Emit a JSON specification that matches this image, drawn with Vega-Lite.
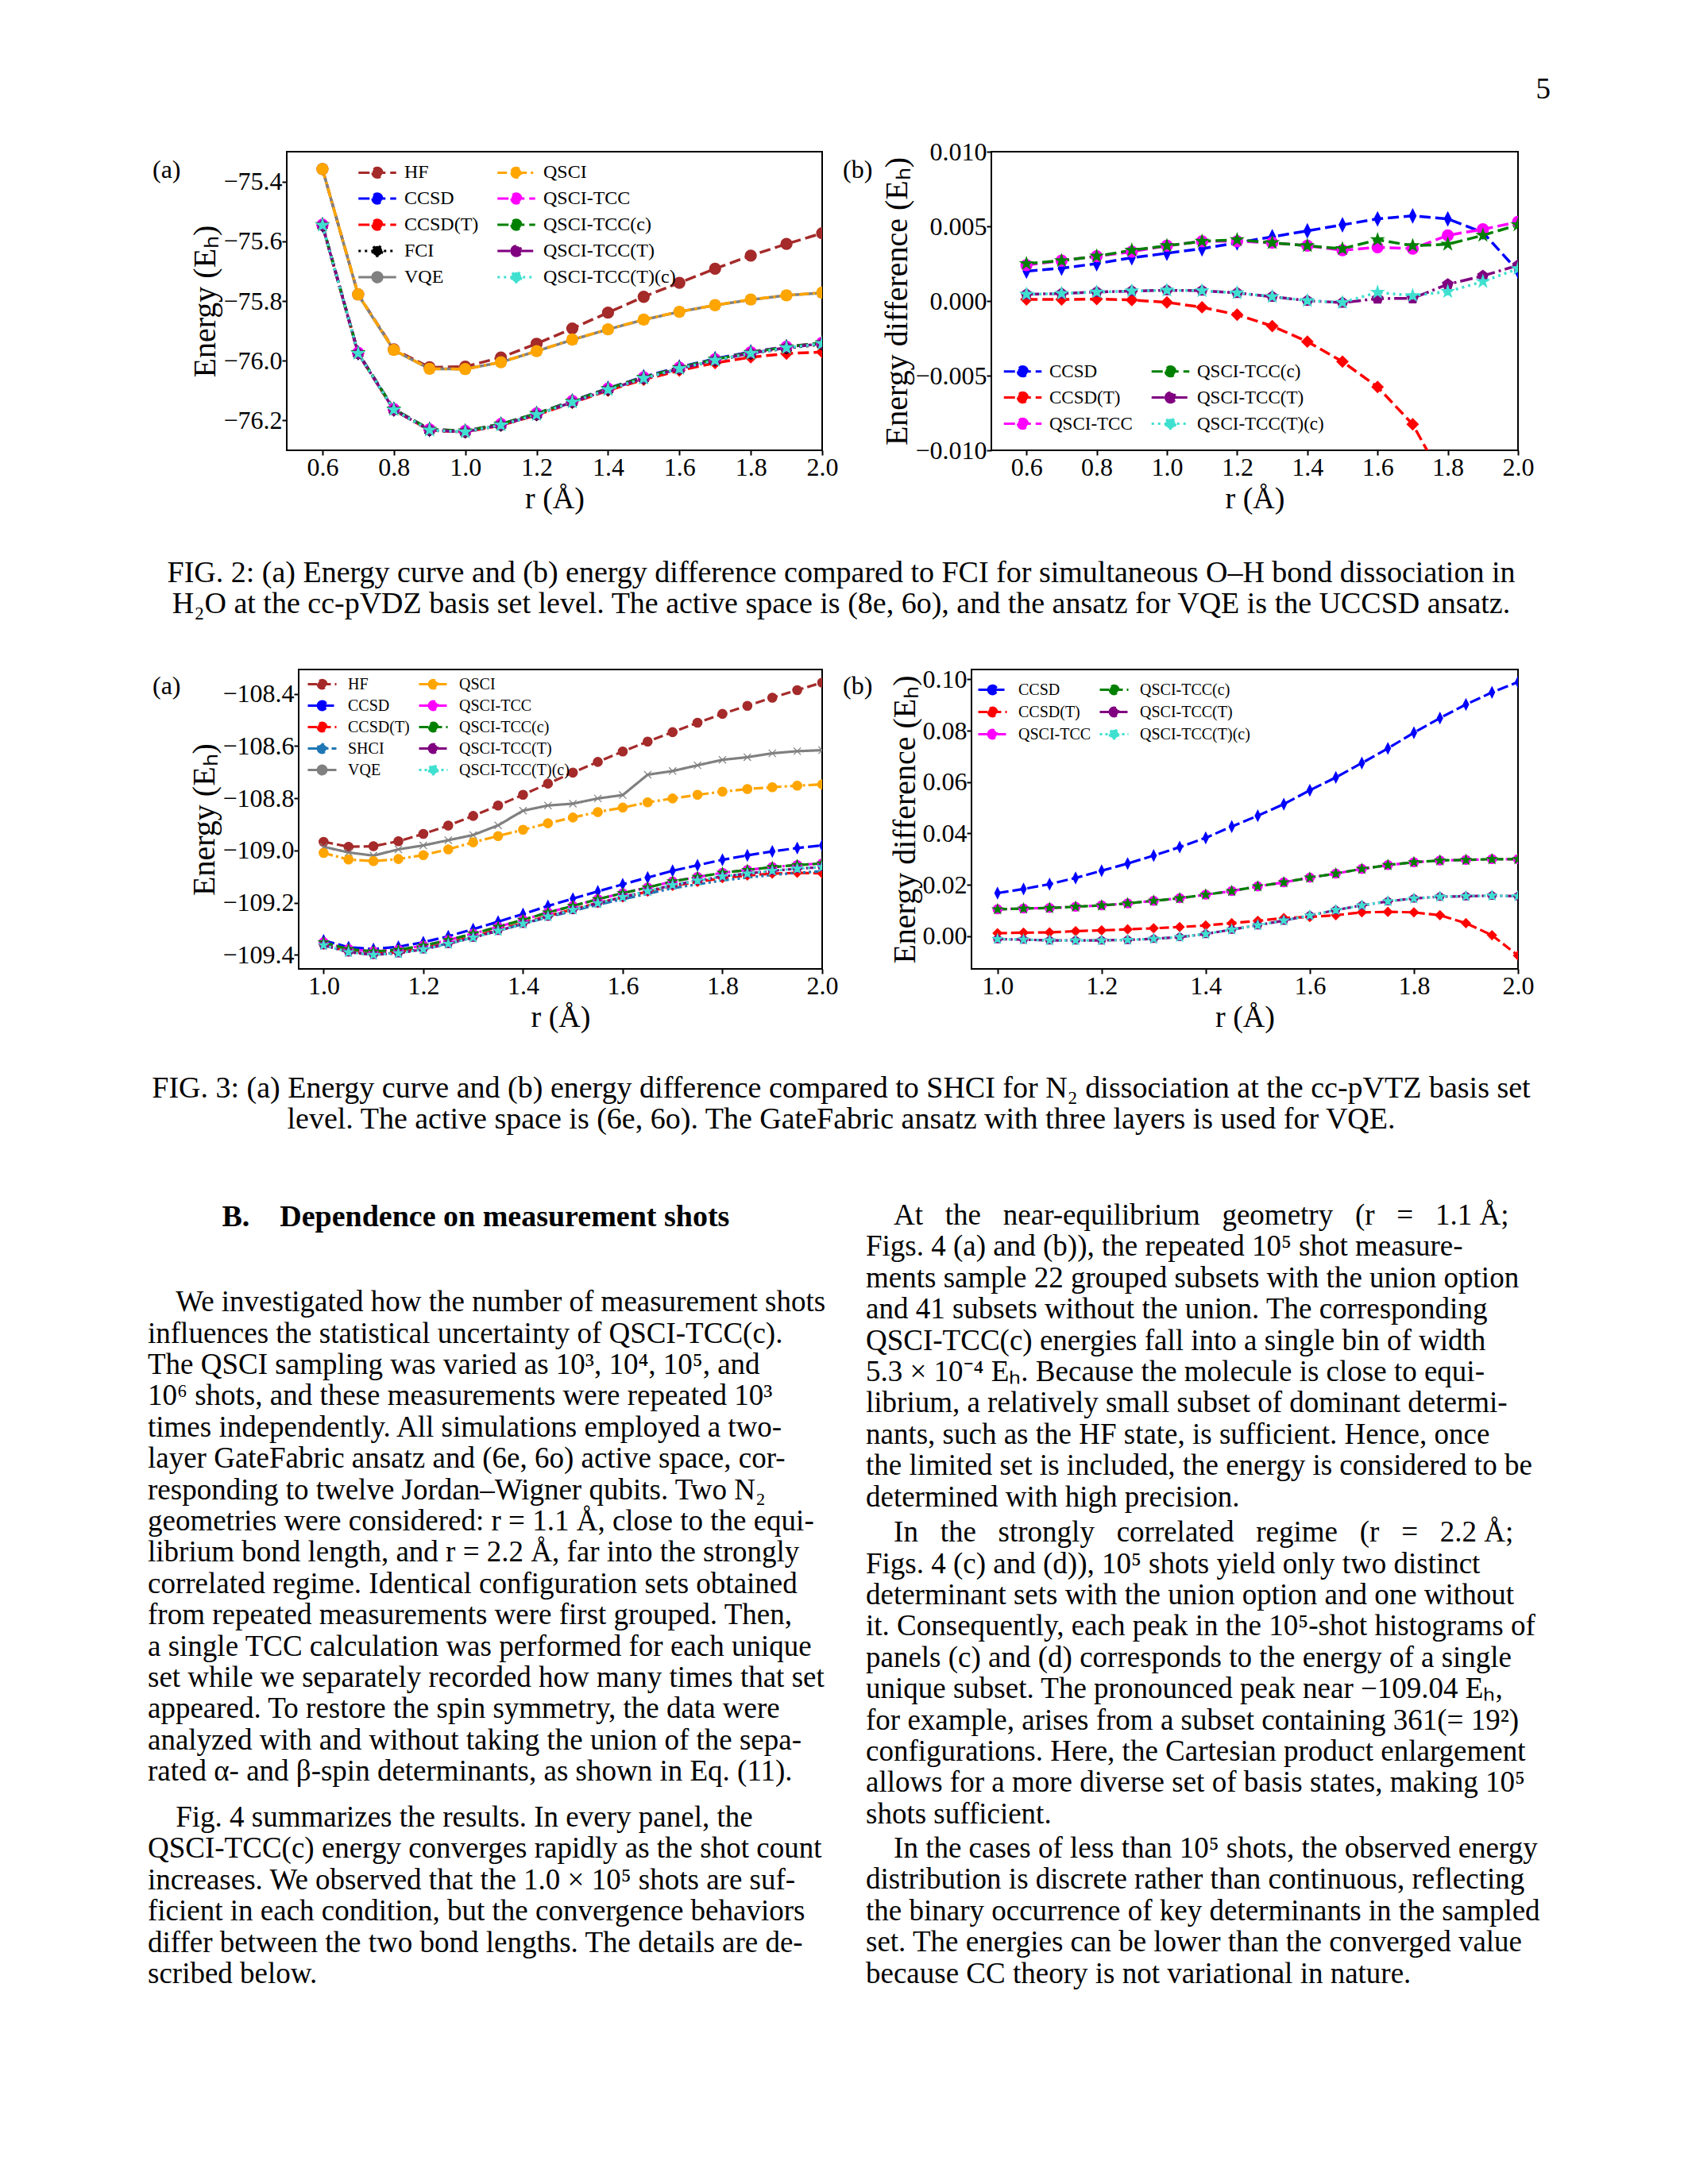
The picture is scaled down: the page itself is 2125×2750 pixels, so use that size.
{
"$schema": "https://vega.github.io/schema/vega-lite/v6.json",
"background": "white",
"padding": {"left": 186, "top": 52, "right": 5, "bottom": 5},
"datasets": {
"f2a": [
{"r":0.6,"HF":-75.358,"CCSD":-75.545,"CCSD(T)":-75.5469,"FCI":-75.547,"VQE":-75.358,"QSCI":-75.358,"QSCI-TCC":-75.5446,"QSCI-TCC(c)":-75.5445,"QSCI-TCC(T)":-75.5465,"QSCI-TCC(T)(c)":-75.5465},
{"r":0.7,"HF":-75.778,"CCSD":-75.9738,"CCSD(T)":-75.9759,"FCI":-75.976,"VQE":-75.779,"QSCI":-75.778,"QSCI-TCC":-75.9733,"QSCI-TCC(c)":-75.9733,"QSCI-TCC(T)":-75.9755,"QSCI-TCC(T)(c)":-75.9755},
{"r":0.8,"HF":-75.962,"CCSD":-76.1625,"CCSD(T)":-76.1649,"FCI":-76.165,"VQE":-75.965,"QSCI":-75.964,"QSCI-TCC":-76.162,"QSCI-TCC(c)":-76.162,"QSCI-TCC(T)":-76.1644,"QSCI-TCC(T)(c)":-76.1644},
{"r":0.9,"HF":-76.022,"CCSD":-76.2301,"CCSD(T)":-76.2329,"FCI":-76.233,"VQE":-76.027,"QSCI":-76.027,"QSCI-TCC":-76.2297,"QSCI-TCC(c)":-76.2296,"QSCI-TCC(T)":-76.2323,"QSCI-TCC(T)(c)":-76.2323},
{"r":1.0,"HF":-76.02,"CCSD":-76.2358,"CCSD(T)":-76.2391,"FCI":-76.239,"VQE":-76.028,"QSCI":-76.028,"QSCI-TCC":-76.2353,"QSCI-TCC(c)":-76.2353,"QSCI-TCC(T)":-76.2383,"QSCI-TCC(T)(c)":-76.2383},
{"r":1.1,"HF":-75.989,"CCSD":-76.2125,"CCSD(T)":-76.2164,"FCI":-76.216,"VQE":-76.005,"QSCI":-76.005,"QSCI-TCC":-76.212,"QSCI-TCC(c)":-76.212,"QSCI-TCC(T)":-76.2153,"QSCI-TCC(T)(c)":-76.2153},
{"r":1.2,"HF":-75.943,"CCSD":-76.1771,"CCSD(T)":-76.1819,"FCI":-76.181,"VQE":-75.968,"QSCI":-75.968,"QSCI-TCC":-76.177,"QSCI-TCC(c)":-76.1769,"QSCI-TCC(T)":-76.1805,"QSCI-TCC(T)(c)":-76.1805},
{"r":1.3,"HF":-75.892,"CCSD":-76.1347,"CCSD(T)":-76.1407,"FCI":-76.139,"VQE":-75.93,"QSCI":-75.929,"QSCI-TCC":-76.1351,"QSCI-TCC(c)":-76.1351,"QSCI-TCC(T)":-76.1387,"QSCI-TCC(T)(c)":-76.1387},
{"r":1.4,"HF":-75.839,"CCSD":-76.0923,"CCSD(T)":-76.0997,"FCI":-76.097,"VQE":-75.895,"QSCI":-75.895,"QSCI-TCC":-76.0933,"QSCI-TCC(c)":-76.0933,"QSCI-TCC(T)":-76.097,"QSCI-TCC(T)(c)":-76.097},
{"r":1.5,"HF":-75.786,"CCSD":-76.0539,"CCSD(T)":-76.0631,"FCI":-76.059,"VQE":-75.863,"QSCI":-75.862,"QSCI-TCC":-76.0556,"QSCI-TCC(c)":-76.0555,"QSCI-TCC(T)":-76.0591,"QSCI-TCC(T)(c)":-76.0591},
{"r":1.6,"HF":-75.739,"CCSD":-76.0215,"CCSD(T)":-76.0328,"FCI":-76.027,"VQE":-75.836,"QSCI":-75.836,"QSCI-TCC":-76.0234,"QSCI-TCC(c)":-76.0229,"QSCI-TCC(T)":-76.0268,"QSCI-TCC(T)(c)":-76.0264},
{"r":1.7,"HF":-75.692,"CCSD":-75.9933,"CCSD(T)":-76.0073,"FCI":-75.999,"VQE":-75.814,"QSCI":-75.814,"QSCI-TCC":-75.9955,"QSCI-TCC(c)":-75.9953,"QSCI-TCC(T)":-75.9988,"QSCI-TCC(T)(c)":-75.9986},
{"r":1.8,"HF":-75.648,"CCSD":-75.9705,"CCSD(T)":-75.9885,"FCI":-75.976,"VQE":-75.796,"QSCI":-75.795,"QSCI-TCC":-75.9716,"QSCI-TCC(c)":-75.9722,"QSCI-TCC(T)":-75.9749,"QSCI-TCC(T)(c)":-75.9754},
{"r":1.9,"HF":-75.609,"CCSD":-75.9534,"CCSD(T)":-75.976,"FCI":-75.958,"VQE":-75.781,"QSCI":-75.781,"QSCI-TCC":-75.9532,"QSCI-TCC(c)":-75.9536,"QSCI-TCC(T)":-75.9563,"QSCI-TCC(T)(c)":-75.9567},
{"r":2.0,"HF":-75.573,"CCSD":-75.943,"CCSD(T)":-75.971,"FCI":-75.945,"VQE":-75.773,"QSCI":-75.772,"QSCI-TCC":-75.9397,"QSCI-TCC(c)":-75.9399,"QSCI-TCC(T)":-75.9426,"QSCI-TCC(T)(c)":-75.9428}
],
"f2b": [
{"r":0.6,"CCSD":0.002,"CCSD(T)":0.0001,"QSCI-TCC":0.0024,"QSCI-TCC(c)":0.0025,"QSCI-TCC(T)":0.00045,"QSCI-TCC(T)(c)":0.00045},
{"r":0.7,"CCSD":0.0022,"CCSD(T)":0.0001,"QSCI-TCC":0.0027,"QSCI-TCC(c)":0.0027,"QSCI-TCC(T)":0.0005,"QSCI-TCC(T)(c)":0.0005},
{"r":0.8,"CCSD":0.0025,"CCSD(T)":0.00013,"QSCI-TCC":0.003,"QSCI-TCC(c)":0.003,"QSCI-TCC(T)":0.0006,"QSCI-TCC(T)(c)":0.0006},
{"r":0.9,"CCSD":0.0029,"CCSD(T)":0.00007,"QSCI-TCC":0.0033,"QSCI-TCC(c)":0.0034,"QSCI-TCC(T)":0.00067,"QSCI-TCC(T)(c)":0.00067},
{"r":1.0,"CCSD":0.0032,"CCSD(T)":-0.00009,"QSCI-TCC":0.0037,"QSCI-TCC(c)":0.0037,"QSCI-TCC(T)":0.00072,"QSCI-TCC(T)(c)":0.00072},
{"r":1.1,"CCSD":0.0035,"CCSD(T)":-0.00042,"QSCI-TCC":0.004,"QSCI-TCC(c)":0.004,"QSCI-TCC(T)":0.00069,"QSCI-TCC(T)(c)":0.00069},
{"r":1.2,"CCSD":0.0039,"CCSD(T)":-0.00092,"QSCI-TCC":0.004,"QSCI-TCC(c)":0.0041,"QSCI-TCC(T)":0.00054,"QSCI-TCC(T)(c)":0.00054},
{"r":1.3,"CCSD":0.0043,"CCSD(T)":-0.00168,"QSCI-TCC":0.0039,"QSCI-TCC(c)":0.0039,"QSCI-TCC(T)":0.00029,"QSCI-TCC(T)(c)":0.00029},
{"r":1.4,"CCSD":0.0047,"CCSD(T)":-0.00272,"QSCI-TCC":0.0037,"QSCI-TCC(c)":0.0037,"QSCI-TCC(T)":0.00002,"QSCI-TCC(T)(c)":0.00002},
{"r":1.5,"CCSD":0.0051,"CCSD(T)":-0.00406,"QSCI-TCC":0.0034,"QSCI-TCC(c)":0.0035,"QSCI-TCC(T)":-0.00011,"QSCI-TCC(T)(c)":-0.0001},
{"r":1.6,"CCSD":0.0055,"CCSD(T)":-0.00576,"QSCI-TCC":0.0036,"QSCI-TCC(c)":0.0041,"QSCI-TCC(T)":0.00016,"QSCI-TCC(T)(c)":0.00058},
{"r":1.7,"CCSD":0.0057,"CCSD(T)":-0.00826,"QSCI-TCC":0.0035,"QSCI-TCC(c)":0.0037,"QSCI-TCC(T)":0.00018,"QSCI-TCC(T)(c)":0.00036},
{"r":1.8,"CCSD":0.0055,"CCSD(T)":-0.0125,"QSCI-TCC":0.0044,"QSCI-TCC(c)":0.0038,"QSCI-TCC(T)":0.00112,"QSCI-TCC(T)(c)":0.00063},
{"r":1.9,"CCSD":0.0046,"CCSD(T)":-0.018,"QSCI-TCC":0.0048,"QSCI-TCC(c)":0.0044,"QSCI-TCC(T)":0.00168,"QSCI-TCC(T)(c)":0.0013},
{"r":2.0,"CCSD":0.002,"CCSD(T)":-0.026,"QSCI-TCC":0.0053,"QSCI-TCC(c)":0.0051,"QSCI-TCC(T)":0.00239,"QSCI-TCC(T)(c)":0.00216}
],
"f3a": [
{"r":1.0,"HF":-108.967,"CCSD":-109.345,"CCSD(T)":-109.361,"SHCI":-109.362,"VQE":-108.986,"QSCI":-109.01,"QSCI-TCC":-109.352,"QSCI-TCC(c)":-109.352,"QSCI-TCC(T)":-109.363,"QSCI-TCC(T)(c)":-109.363},
{"r":1.05,"HF":-108.986,"CCSD":-109.371,"CCSD(T)":-109.388,"SHCI":-109.389,"VQE":-109.008,"QSCI":-109.035,"QSCI-TCC":-109.378,"QSCI-TCC(c)":-109.378,"QSCI-TCC(T)":-109.39,"QSCI-TCC(T)(c)":-109.39},
{"r":1.1,"HF":-108.984,"CCSD":-109.378,"CCSD(T)":-109.396,"SHCI":-109.398,"VQE":-109.02,"QSCI":-109.041,"QSCI-TCC":-109.387,"QSCI-TCC(c)":-109.387,"QSCI-TCC(T)":-109.4,"QSCI-TCC(T)(c)":-109.4},
{"r":1.15,"HF":-108.965,"CCSD":-109.369,"CCSD(T)":-109.39,"SHCI":-109.392,"VQE":-108.996,"QSCI":-109.033,"QSCI-TCC":-109.381,"QSCI-TCC(c)":-109.381,"QSCI-TCC(T)":-109.394,"QSCI-TCC(T)(c)":-109.394},
{"r":1.2,"HF":-108.937,"CCSD":-109.352,"CCSD(T)":-109.375,"SHCI":-109.377,"VQE":-108.981,"QSCI":-109.018,"QSCI-TCC":-109.365,"QSCI-TCC(c)":-109.365,"QSCI-TCC(T)":-109.379,"QSCI-TCC(T)(c)":-109.379},
{"r":1.25,"HF":-108.905,"CCSD":-109.329,"CCSD(T)":-109.354,"SHCI":-109.357,"VQE":-108.961,"QSCI":-108.996,"QSCI-TCC":-109.344,"QSCI-TCC(c)":-109.344,"QSCI-TCC(T)":-109.358,"QSCI-TCC(T)(c)":-109.358},
{"r":1.3,"HF":-108.868,"CCSD":-109.302,"CCSD(T)":-109.33,"SHCI":-109.333,"VQE":-108.941,"QSCI":-108.969,"QSCI-TCC":-109.319,"QSCI-TCC(c)":-109.319,"QSCI-TCC(T)":-109.334,"QSCI-TCC(T)(c)":-109.334},
{"r":1.35,"HF":-108.828,"CCSD":-109.273,"CCSD(T)":-109.304,"SHCI":-109.308,"VQE":-108.904,"QSCI":-108.945,"QSCI-TCC":-109.293,"QSCI-TCC(c)":-109.293,"QSCI-TCC(T)":-109.308,"QSCI-TCC(T)(c)":-109.308},
{"r":1.4,"HF":-108.787,"CCSD":-109.244,"CCSD(T)":-109.278,"SHCI":-109.282,"VQE":-108.848,"QSCI":-108.921,"QSCI-TCC":-109.266,"QSCI-TCC(c)":-109.266,"QSCI-TCC(T)":-109.281,"QSCI-TCC(T)(c)":-109.281},
{"r":1.45,"HF":-108.744,"CCSD":-109.213,"CCSD(T)":-109.251,"SHCI":-109.256,"VQE":-108.828,"QSCI":-108.896,"QSCI-TCC":-109.238,"QSCI-TCC(c)":-109.238,"QSCI-TCC(T)":-109.253,"QSCI-TCC(T)(c)":-109.253},
{"r":1.5,"HF":-108.702,"CCSD":-109.185,"CCSD(T)":-109.226,"SHCI":-109.232,"VQE":-108.821,"QSCI":-108.874,"QSCI-TCC":-109.213,"QSCI-TCC(c)":-109.213,"QSCI-TCC(T)":-109.228,"QSCI-TCC(T)(c)":-109.228},
{"r":1.55,"HF":-108.661,"CCSD":-109.157,"CCSD(T)":-109.201,"SHCI":-109.208,"VQE":-108.801,"QSCI":-108.853,"QSCI-TCC":-109.187,"QSCI-TCC(c)":-109.187,"QSCI-TCC(T)":-109.202,"QSCI-TCC(T)(c)":-109.202},
{"r":1.6,"HF":-108.621,"CCSD":-109.13,"CCSD(T)":-109.18,"SHCI":-109.187,"VQE":-108.788,"QSCI":-108.836,"QSCI-TCC":-109.164,"QSCI-TCC(c)":-109.164,"QSCI-TCC(T)":-109.179,"QSCI-TCC(T)(c)":-109.179},
{"r":1.65,"HF":-108.583,"CCSD":-109.104,"CCSD(T)":-109.158,"SHCI":-109.166,"VQE":-108.71,"QSCI":-108.816,"QSCI-TCC":-109.142,"QSCI-TCC(c)":-109.142,"QSCI-TCC(T)":-109.156,"QSCI-TCC(T)(c)":-109.156},
{"r":1.7,"HF":-108.547,"CCSD":-109.078,"CCSD(T)":-109.136,"SHCI":-109.145,"VQE":-108.696,"QSCI":-108.801,"QSCI-TCC":-109.119,"QSCI-TCC(c)":-109.119,"QSCI-TCC(T)":-109.133,"QSCI-TCC(T)(c)":-109.133},
{"r":1.75,"HF":-108.511,"CCSD":-109.057,"CCSD(T)":-109.121,"SHCI":-109.13,"VQE":-108.674,"QSCI":-108.787,"QSCI-TCC":-109.102,"QSCI-TCC(c)":-109.102,"QSCI-TCC(T)":-109.116,"QSCI-TCC(T)(c)":-109.116},
{"r":1.8,"HF":-108.477,"CCSD":-109.036,"CCSD(T)":-109.106,"SHCI":-109.115,"VQE":-108.653,"QSCI":-108.775,"QSCI-TCC":-109.086,"QSCI-TCC(c)":-109.086,"QSCI-TCC(T)":-109.1,"QSCI-TCC(T)(c)":-109.1},
{"r":1.85,"HF":-108.446,"CCSD":-109.019,"CCSD(T)":-109.096,"SHCI":-109.104,"VQE":-108.643,"QSCI":-108.765,"QSCI-TCC":-109.075,"QSCI-TCC(c)":-109.075,"QSCI-TCC(T)":-109.089,"QSCI-TCC(T)(c)":-109.089},
{"r":1.9,"HF":-108.415,"CCSD":-109.004,"CCSD(T)":-109.089,"SHCI":-109.094,"VQE":-108.628,"QSCI":-108.758,"QSCI-TCC":-109.064,"QSCI-TCC(c)":-109.064,"QSCI-TCC(T)":-109.078,"QSCI-TCC(T)(c)":-109.078},
{"r":1.95,"HF":-108.386,"CCSD":-108.991,"CCSD(T)":-109.086,"SHCI":-109.086,"VQE":-108.62,"QSCI":-108.752,"QSCI-TCC":-109.056,"QSCI-TCC(c)":-109.056,"QSCI-TCC(T)":-109.07,"QSCI-TCC(T)(c)":-109.07},
{"r":2.0,"HF":-108.357,"CCSD":-108.981,"CCSD(T)":-109.088,"SHCI":-109.08,"VQE":-108.616,"QSCI":-108.747,"QSCI-TCC":-109.05,"QSCI-TCC(c)":-109.05,"QSCI-TCC(T)":-109.064,"QSCI-TCC(T)(c)":-109.064}
],
"f3b": [
{"r":1.0,"CCSD":0.0168,"CCSD(T)":0.0012,"QSCI-TCC":0.0105,"QSCI-TCC(c)":0.0105,"QSCI-TCC(T)":-0.0011,"QSCI-TCC(T)(c)":-0.0011},
{"r":1.05,"CCSD":0.0184,"CCSD(T)":0.0014,"QSCI-TCC":0.0108,"QSCI-TCC(c)":0.0108,"QSCI-TCC(T)":-0.0013,"QSCI-TCC(T)(c)":-0.0013},
{"r":1.1,"CCSD":0.0203,"CCSD(T)":0.0015,"QSCI-TCC":0.011,"QSCI-TCC(c)":0.011,"QSCI-TCC(T)":-0.0016,"QSCI-TCC(T)(c)":-0.0016},
{"r":1.15,"CCSD":0.0227,"CCSD(T)":0.002,"QSCI-TCC":0.0115,"QSCI-TCC(c)":0.0115,"QSCI-TCC(T)":-0.0016,"QSCI-TCC(T)(c)":-0.0016},
{"r":1.2,"CCSD":0.0255,"CCSD(T)":0.0023,"QSCI-TCC":0.012,"QSCI-TCC(c)":0.012,"QSCI-TCC(T)":-0.0016,"QSCI-TCC(T)(c)":-0.0016},
{"r":1.25,"CCSD":0.0283,"CCSD(T)":0.0027,"QSCI-TCC":0.0128,"QSCI-TCC(c)":0.0128,"QSCI-TCC(T)":-0.0014,"QSCI-TCC(T)(c)":-0.0014},
{"r":1.3,"CCSD":0.0314,"CCSD(T)":0.0031,"QSCI-TCC":0.0138,"QSCI-TCC(c)":0.0138,"QSCI-TCC(T)":-0.001,"QSCI-TCC(T)(c)":-0.001},
{"r":1.35,"CCSD":0.0347,"CCSD(T)":0.0036,"QSCI-TCC":0.0148,"QSCI-TCC(c)":0.0148,"QSCI-TCC(T)":-0.0003,"QSCI-TCC(T)(c)":-0.0003},
{"r":1.4,"CCSD":0.0383,"CCSD(T)":0.0042,"QSCI-TCC":0.0162,"QSCI-TCC(c)":0.0162,"QSCI-TCC(T)":0.0009,"QSCI-TCC(T)(c)":0.0009},
{"r":1.45,"CCSD":0.0427,"CCSD(T)":0.0051,"QSCI-TCC":0.0176,"QSCI-TCC(c)":0.0176,"QSCI-TCC(T)":0.0026,"QSCI-TCC(T)(c)":0.0026},
{"r":1.5,"CCSD":0.0469,"CCSD(T)":0.006,"QSCI-TCC":0.0194,"QSCI-TCC(c)":0.0194,"QSCI-TCC(T)":0.0043,"QSCI-TCC(T)(c)":0.0043},
{"r":1.55,"CCSD":0.0514,"CCSD(T)":0.0071,"QSCI-TCC":0.021,"QSCI-TCC(c)":0.021,"QSCI-TCC(T)":0.0061,"QSCI-TCC(T)(c)":0.0061},
{"r":1.6,"CCSD":0.0568,"CCSD(T)":0.0075,"QSCI-TCC":0.0228,"QSCI-TCC(c)":0.0228,"QSCI-TCC(T)":0.0081,"QSCI-TCC(T)(c)":0.0081},
{"r":1.65,"CCSD":0.0618,"CCSD(T)":0.0082,"QSCI-TCC":0.0244,"QSCI-TCC(c)":0.0244,"QSCI-TCC(T)":0.0102,"QSCI-TCC(T)(c)":0.0102},
{"r":1.7,"CCSD":0.0674,"CCSD(T)":0.0093,"QSCI-TCC":0.0262,"QSCI-TCC(c)":0.0262,"QSCI-TCC(T)":0.012,"QSCI-TCC(T)(c)":0.012},
{"r":1.75,"CCSD":0.0731,"CCSD(T)":0.0095,"QSCI-TCC":0.0277,"QSCI-TCC(c)":0.0277,"QSCI-TCC(T)":0.0136,"QSCI-TCC(T)(c)":0.0136},
{"r":1.8,"CCSD":0.0792,"CCSD(T)":0.0093,"QSCI-TCC":0.0288,"QSCI-TCC(c)":0.0288,"QSCI-TCC(T)":0.0147,"QSCI-TCC(T)(c)":0.0147},
{"r":1.85,"CCSD":0.0849,"CCSD(T)":0.0082,"QSCI-TCC":0.0295,"QSCI-TCC(c)":0.0295,"QSCI-TCC(T)":0.0154,"QSCI-TCC(T)(c)":0.0154},
{"r":1.9,"CCSD":0.0902,"CCSD(T)":0.0051,"QSCI-TCC":0.0297,"QSCI-TCC(c)":0.0297,"QSCI-TCC(T)":0.0156,"QSCI-TCC(T)(c)":0.0156},
{"r":1.95,"CCSD":0.0949,"CCSD(T)":0.0004,"QSCI-TCC":0.03,"QSCI-TCC(c)":0.03,"QSCI-TCC(T)":0.0158,"QSCI-TCC(T)(c)":0.0158},
{"r":2.0,"CCSD":0.0989,"CCSD(T)":-0.0075,"QSCI-TCC":0.03,"QSCI-TCC(c)":0.03,"QSCI-TCC(T)":0.0156,"QSCI-TCC(T)(c)":0.0156}
]
},
"vconcat": [
{
"width": 1766, "height": 122, "view": {"stroke": null},
"data": {"values": [{"side": 1, "text": "5"}]},
"mark": {"type": "text", "align": "right", "baseline": "middle", "font": "Liberation Serif", "fontSize": 37, "color": "black"},
"encoding": {"x": {"field": "side", "type": "quantitative", "scale": {"domain": [0, 1], "nice": false}, "axis": null}, "text": {"field": "text"}}
},
{
"hconcat": [
{
"width": 1, "height": 1, "view": {"stroke": null},
"data": {"values": [{"t": ""}]},
"mark": {"type": "text"},
"encoding": {"text": {"field": "t"}}
},
{
"width": 674, "height": 376,
"title": {"text": "(a)", "anchor": "start", "frame": "group", "orient": "top", "baseline": "middle", "offset": -55, "dx": -169},
"data": {"name": "f2a"},
"transform": [{"fold": ["HF","CCSD","CCSD(T)","FCI","VQE","QSCI","QSCI-TCC","QSCI-TCC(c)","QSCI-TCC(T)","QSCI-TCC(T)(c)"], "as": ["method", "e"]}],
"encoding": {
"x": {"field": "r", "type": "quantitative", "scale": {"domain": [0.5, 2.0], "nice": false, "zero": false}, "axis": {"title": "r (Å)", "values": [0.6,0.8,1.0,1.2,1.4,1.6,1.8,2.0], "format": ".1f"}},
"y": {"field": "e", "type": "quantitative", "scale": {"domain": [-76.3, -75.3], "nice": false, "zero": false}, "axis": {"title": "Energy (Eₕ)", "values": [-76.2,-76.0,-75.8,-75.6,-75.4], "format": ".1f"}}
},
"layer": [
{"mark": {"type": "line", "strokeWidth": 3.5, "clip": true},
"encoding": {
"color": {"field": "method", "type": "nominal", "scale": {"domain": ["HF","CCSD","CCSD(T)","FCI","VQE","QSCI","QSCI-TCC","QSCI-TCC(c)","QSCI-TCC(T)","QSCI-TCC(T)(c)"], "range": ["#a52a2a","#0000ff","#ff0000","#000000","#808080","#ffa500","#ff00ff","#008000","#800080","#40e0d0"]},
"legend": {"orient": "none", "legendX": 102, "legendY": 14, "columns": 2, "columnPadding": 17, "rowPadding": 7, "symbolSize": 361, "symbolStrokeWidth": 3, "symbolType": "M-2.5,0H2.5M-0.65,0A0.65,0.65 0 1,0 0.65,0A0.65,0.65 0 1,0 -0.65,0Z", "labelOffset": 22, "labelFontSize": 24, "labelLimit": 0, "title": null, "padding": 0}},
"strokeDash": {"field": "method", "type": "nominal", "scale": {"domain": ["HF","CCSD","CCSD(T)","FCI","VQE","QSCI","QSCI-TCC","QSCI-TCC(c)","QSCI-TCC(T)","QSCI-TCC(T)(c)"], "range": [[14,6],[14,6],[14,6],[3,5],[1,0],[12,5,3,5],[14,6],[14,6],[16,5,3,5],[3,5]]},
"legend": {"orient": "none", "legendX": 102, "legendY": 14, "columns": 2, "columnPadding": 17, "rowPadding": 7, "symbolSize": 361, "symbolStrokeWidth": 3, "symbolType": "M-2.5,0H2.5M-0.65,0A0.65,0.65 0 1,0 0.65,0A0.65,0.65 0 1,0 -0.65,0Z", "labelOffset": 22, "labelFontSize": 24, "labelLimit": 0, "title": null, "padding": 0}}
}},
{"mark": {"type": "point", "filled": true, "size": 190, "opacity": 1, "strokeWidth": 1.5, "clip": true},
"encoding": {
"fill": {"field": "method", "type": "nominal", "scale": {"domain": ["HF","CCSD","CCSD(T)","FCI","VQE","QSCI","QSCI-TCC","QSCI-TCC(c)","QSCI-TCC(T)","QSCI-TCC(T)(c)"], "range": ["#a52a2a","#0000ff","#ff0000","#000000","#808080","#ffa500","#ff00ff","#008000","#800080","#40e0d0"]},
"legend": {"orient": "none", "legendX": 102, "legendY": 14, "columns": 2, "columnPadding": 17, "rowPadding": 7, "symbolSize": 361, "symbolStrokeWidth": 3, "symbolType": "M-2.5,0H2.5M-0.65,0A0.65,0.65 0 1,0 0.65,0A0.65,0.65 0 1,0 -0.65,0Z", "labelOffset": 22, "labelFontSize": 24, "labelLimit": 0, "title": null, "padding": 0}},
"stroke": {"field": "method", "type": "nominal", "scale": {"domain": ["QSCI-TCC(T)(c)","QSCI-TCC(T)","QSCI-TCC(c)","QSCI-TCC","QSCI","VQE","FCI","CCSD(T)","CCSD","HF"], "range": ["#40e0d0","#800080","#008000","#ff00ff","#ffa500","#808080","#000000","#ff0000","#0000ff","#a52a2a"]}, "legend": null},
"shape": {"field": "method", "type": "nominal", "scale": {"domain": ["QSCI-TCC(T)(c)","QSCI-TCC(T)","QSCI-TCC(c)","QSCI-TCC","QSCI","VQE","FCI","CCSD(T)","CCSD","HF"], "range": ["M0,-1.1L0.25,-0.34L1.05,-0.34L0.4,0.13L0.65,0.89L0,0.42L-0.65,0.89L-0.4,0.13L-1.05,-0.34L-0.25,-0.34Z","M0,-1L0.95,-0.31L0.59,0.81L-0.59,0.81L-0.95,-0.31Z","M0,-1.1L0.25,-0.34L1.05,-0.34L0.4,0.13L0.65,0.89L0,0.42L-0.65,0.89L-0.4,0.13L-1.05,-0.34L-0.25,-0.34Z","M-1,0A1,1 0 1,0 1,0A1,1 0 1,0 -1,0Z","M-1,0A1,1 0 1,0 1,0A1,1 0 1,0 -1,0Z","M-0.8,-0.8L0.8,0.8M-0.8,0.8L0.8,-0.8","M0,-1L0.87,-0.5L0.87,0.5L0,1L-0.87,0.5L-0.87,-0.5Z","M0,-1L1,0L0,1L-1,0Z","M0,-1.2L0.6,0L0,1.2L-0.6,0Z","M-1,0A1,1 0 1,0 1,0A1,1 0 1,0 -1,0Z"]}, "legend": null}
}}
]
},
{
"width": 663, "height": 376,
"title": {"text": "(b)", "anchor": "start", "frame": "group", "orient": "top", "baseline": "middle", "offset": -71, "dx": -187},
"data": {"name": "f2b"},
"transform": [{"fold": ["CCSD","CCSD(T)","QSCI-TCC","QSCI-TCC(c)","QSCI-TCC(T)","QSCI-TCC(T)(c)"], "as": ["method", "e"]}],
"encoding": {
"x": {"field": "r", "type": "quantitative", "scale": {"domain": [0.5, 2.0], "nice": false, "zero": false}, "axis": {"title": "r (Å)", "values": [0.6,0.8,1.0,1.2,1.4,1.6,1.8,2.0], "format": ".1f"}},
"y": {"field": "e", "type": "quantitative", "scale": {"domain": [-0.01, 0.01], "nice": false, "zero": false}, "axis": {"title": "Energy difference (Eₕ)", "values": [-0.01,-0.005,0,0.005,0.01], "format": ".3f"}}
},
"layer": [
{"mark": {"type": "line", "strokeWidth": 3.5, "clip": true},
"encoding": {
"color": {"field": "method", "type": "nominal", "scale": {"domain": ["CCSD","CCSD(T)","QSCI-TCC","QSCI-TCC(c)","QSCI-TCC(T)","QSCI-TCC(T)(c)"], "range": ["#0000ff","#ff0000","#ff00ff","#008000","#800080","#40e0d0"]},
"legend": {"orient": "none", "legendX": 28, "legendY": 265, "columns": 2, "columnPadding": 17, "rowPadding": 8, "symbolSize": 361, "symbolStrokeWidth": 3, "symbolType": "M-2.5,0H2.5M-0.65,0A0.65,0.65 0 1,0 0.65,0A0.65,0.65 0 1,0 -0.65,0Z", "labelOffset": 22, "labelFontSize": 23, "labelLimit": 0, "title": null, "padding": 0}},
"strokeDash": {"field": "method", "type": "nominal", "scale": {"domain": ["CCSD","CCSD(T)","QSCI-TCC","QSCI-TCC(c)","QSCI-TCC(T)","QSCI-TCC(T)(c)"], "range": [[14,6],[14,6],[14,6],[14,6],[16,5,3,5],[3,5]]},
"legend": {"orient": "none", "legendX": 28, "legendY": 265, "columns": 2, "columnPadding": 17, "rowPadding": 8, "symbolSize": 361, "symbolStrokeWidth": 3, "symbolType": "M-2.5,0H2.5M-0.65,0A0.65,0.65 0 1,0 0.65,0A0.65,0.65 0 1,0 -0.65,0Z", "labelOffset": 22, "labelFontSize": 23, "labelLimit": 0, "title": null, "padding": 0}}
}},
{"mark": {"type": "point", "filled": true, "size": 190, "opacity": 1, "strokeWidth": 1.5, "clip": true},
"encoding": {
"fill": {"field": "method", "type": "nominal", "scale": {"domain": ["CCSD","CCSD(T)","QSCI-TCC","QSCI-TCC(c)","QSCI-TCC(T)","QSCI-TCC(T)(c)"], "range": ["#0000ff","#ff0000","#ff00ff","#008000","#800080","#40e0d0"]},
"legend": {"orient": "none", "legendX": 28, "legendY": 265, "columns": 2, "columnPadding": 17, "rowPadding": 8, "symbolSize": 361, "symbolStrokeWidth": 3, "symbolType": "M-2.5,0H2.5M-0.65,0A0.65,0.65 0 1,0 0.65,0A0.65,0.65 0 1,0 -0.65,0Z", "labelOffset": 22, "labelFontSize": 23, "labelLimit": 0, "title": null, "padding": 0}},
"stroke": {"field": "method", "type": "nominal", "scale": {"domain": ["QSCI-TCC(T)(c)","QSCI-TCC(T)","QSCI-TCC(c)","QSCI-TCC","CCSD(T)","CCSD"], "range": ["#40e0d0","#800080","#008000","#ff00ff","#ff0000","#0000ff"]}, "legend": null},
"shape": {"field": "method", "type": "nominal", "scale": {"domain": ["QSCI-TCC(T)(c)","QSCI-TCC(T)","QSCI-TCC(c)","QSCI-TCC","CCSD(T)","CCSD"], "range": ["M0,-1.1L0.25,-0.34L1.05,-0.34L0.4,0.13L0.65,0.89L0,0.42L-0.65,0.89L-0.4,0.13L-1.05,-0.34L-0.25,-0.34Z","M0,-1L0.95,-0.31L0.59,0.81L-0.59,0.81L-0.95,-0.31Z","M0,-1.1L0.25,-0.34L1.05,-0.34L0.4,0.13L0.65,0.89L0,0.42L-0.65,0.89L-0.4,0.13L-1.05,-0.34L-0.25,-0.34Z","M-1,0A1,1 0 1,0 1,0A1,1 0 1,0 -1,0Z","M0,-1L1,0L0,1L-1,0Z","M0,-1.2L0.6,0L0,1.2L-0.6,0Z"]}, "legend": null}
}}
]
}
],
"spacing": 4,
"resolve": {"scale": {"color": "independent", "fill": "independent", "stroke": "independent", "strokeDash": "independent", "shape": "independent"}, "legend": {"color": "independent", "fill": "independent", "stroke": "independent", "strokeDash": "independent", "shape": "independent"}}
},
{
"width": 1746, "height": 189, "view": {"stroke": null},
"data": {"values": [
{"line": 0, "text": "FIG. 2: (a) Energy curve and (b) energy difference compared to FCI for simultaneous O–H bond dissociation in"},
{"line": 1, "text": "H₂O at the cc-pVDZ basis set level. The active space is (8e, 6o), and the ansatz for VQE is the UCCSD ansatz."}
]},
"mark": {"type": "text", "align": "center", "baseline": "middle", "font": "Liberation Serif", "fontSize": 38, "color": "black"},
"encoding": {"y": {"field": "line", "type": "quantitative", "scale": {"domain": [-1.878, 2.919], "reverse": true, "nice": false, "zero": false}, "axis": null}, "text": {"field": "text"}}
},
{
"hconcat": [
{
"width": 1, "height": 1, "view": {"stroke": null},
"data": {"values": [{"t": ""}]},
"mark": {"type": "text"},
"encoding": {"text": {"field": "t"}}
},
{
"width": 659, "height": 377,
"title": {"text": "(a)", "anchor": "start", "frame": "group", "orient": "top", "baseline": "middle", "offset": -53, "dx": -184},
"data": {"name": "f3a"},
"transform": [{"fold": ["HF","CCSD","CCSD(T)","SHCI","VQE","QSCI","QSCI-TCC","QSCI-TCC(c)","QSCI-TCC(T)","QSCI-TCC(T)(c)"], "as": ["method", "e"]}],
"encoding": {
"x": {"field": "r", "type": "quantitative", "scale": {"domain": [0.95, 2.0], "nice": false, "zero": false}, "axis": {"title": "r (Å)", "values": [1.0,1.2,1.4,1.6,1.8,2.0], "format": ".1f"}},
"y": {"field": "e", "type": "quantitative", "scale": {"domain": [-109.454, -108.307], "nice": false, "zero": false}, "axis": {"title": "Energy (Eₕ)", "values": [-109.4,-109.2,-109.0,-108.8,-108.6,-108.4], "format": ".1f"}}
},
"layer": [
{"mark": {"type": "line", "strokeWidth": 3.2, "clip": true},
"encoding": {
"color": {"field": "method", "type": "nominal", "scale": {"domain": ["HF","CCSD","CCSD(T)","SHCI","VQE","QSCI","QSCI-TCC","QSCI-TCC(c)","QSCI-TCC(T)","QSCI-TCC(T)(c)"], "range": ["#a52a2a","#0000ff","#ff0000","#1f77b4","#808080","#ffa500","#ff00ff","#008000","#800080","#40e0d0"]},
"legend": {"orient": "none", "legendX": 19, "legendY": 8, "columns": 2, "columnPadding": 5, "rowPadding": 4, "symbolSize": 324, "symbolStrokeWidth": 3, "symbolType": "M-2,0H2M-0.6,0A0.6,0.6 0 1,0 0.6,0A0.6,0.6 0 1,0 -0.6,0Z", "labelOffset": 22, "labelFontSize": 20, "labelLimit": 0, "title": null, "padding": 0}},
"strokeDash": {"field": "method", "type": "nominal", "scale": {"domain": ["HF","CCSD","CCSD(T)","SHCI","VQE","QSCI","QSCI-TCC","QSCI-TCC(c)","QSCI-TCC(T)","QSCI-TCC(T)(c)"], "range": [[12,5],[14,5],[12,5],[12,4,3,4,3,4],[1,0],[12,4,3,4],[12,4,3,4],[12,5],[12,4,3,4],[3,4]]},
"legend": {"orient": "none", "legendX": 19, "legendY": 8, "columns": 2, "columnPadding": 5, "rowPadding": 4, "symbolSize": 324, "symbolStrokeWidth": 3, "symbolType": "M-2,0H2M-0.6,0A0.6,0.6 0 1,0 0.6,0A0.6,0.6 0 1,0 -0.6,0Z", "labelOffset": 22, "labelFontSize": 20, "labelLimit": 0, "title": null, "padding": 0}}
}},
{"mark": {"type": "point", "filled": true, "size": 130, "opacity": 1, "strokeWidth": 1.2, "clip": true},
"encoding": {
"fill": {"field": "method", "type": "nominal", "scale": {"domain": ["HF","CCSD","CCSD(T)","SHCI","VQE","QSCI","QSCI-TCC","QSCI-TCC(c)","QSCI-TCC(T)","QSCI-TCC(T)(c)"], "range": ["#a52a2a","#0000ff","#ff0000","#1f77b4","#808080","#ffa500","#ff00ff","#008000","#800080","#40e0d0"]},
"legend": {"orient": "none", "legendX": 19, "legendY": 8, "columns": 2, "columnPadding": 5, "rowPadding": 4, "symbolSize": 324, "symbolStrokeWidth": 3, "symbolType": "M-2,0H2M-0.6,0A0.6,0.6 0 1,0 0.6,0A0.6,0.6 0 1,0 -0.6,0Z", "labelOffset": 22, "labelFontSize": 20, "labelLimit": 0, "title": null, "padding": 0}},
"stroke": {"field": "method", "type": "nominal", "scale": {"domain": ["QSCI-TCC(T)(c)","QSCI-TCC(T)","QSCI-TCC(c)","QSCI-TCC","QSCI","VQE","SHCI","CCSD(T)","CCSD","HF"], "range": ["#40e0d0","#800080","#008000","#ff00ff","#ffa500","#808080","#1f77b4","#ff0000","#0000ff","#a52a2a"]}, "legend": null},
"shape": {"field": "method", "type": "nominal", "scale": {"domain": ["QSCI-TCC(T)(c)","QSCI-TCC(T)","QSCI-TCC(c)","QSCI-TCC","QSCI","VQE","SHCI","CCSD(T)","CCSD","HF"], "range": ["M0,-1.1L0.25,-0.34L1.05,-0.34L0.4,0.13L0.65,0.89L0,0.42L-0.65,0.89L-0.4,0.13L-1.05,-0.34L-0.25,-0.34Z","M0,-1L0.95,-0.31L0.59,0.81L-0.59,0.81L-0.95,-0.31Z","M0,-1.1L0.25,-0.34L1.05,-0.34L0.4,0.13L0.65,0.89L0,0.42L-0.65,0.89L-0.4,0.13L-1.05,-0.34L-0.25,-0.34Z","M-1,0A1,1 0 1,0 1,0A1,1 0 1,0 -1,0Z","M-1,0A1,1 0 1,0 1,0A1,1 0 1,0 -1,0Z","M-0.8,-0.8L0.8,0.8M-0.8,0.8L0.8,-0.8","M0,0","M0,-1L1,0L0,1L-1,0Z","M0,-1.2L0.6,0L0,1.2L-0.6,0Z","M-1,0A1,1 0 1,0 1,0A1,1 0 1,0 -1,0Z"]}, "legend": null}
}}
]
},
{
"width": 688, "height": 377,
"title": {"text": "(b)", "anchor": "start", "frame": "group", "orient": "top", "baseline": "middle", "offset": -57, "dx": -162},
"data": {"name": "f3b"},
"transform": [{"fold": ["CCSD","CCSD(T)","QSCI-TCC","QSCI-TCC(c)","QSCI-TCC(T)","QSCI-TCC(T)(c)"], "as": ["method", "e"]}],
"encoding": {
"x": {"field": "r", "type": "quantitative", "scale": {"domain": [0.95, 2.0], "nice": false, "zero": false}, "axis": {"title": "r (Å)", "values": [1.0,1.2,1.4,1.6,1.8,2.0], "format": ".1f"}},
"y": {"field": "e", "type": "quantitative", "scale": {"domain": [-0.0127, 0.1038], "nice": false, "zero": false}, "axis": {"title": "Energy difference (Eₕ)", "values": [0,0.02,0.04,0.06,0.08,0.1], "format": ".2f"}}
},
"layer": [
{"mark": {"type": "line", "strokeWidth": 3.2, "clip": true},
"encoding": {
"color": {"field": "method", "type": "nominal", "scale": {"domain": ["CCSD","CCSD(T)","QSCI-TCC","QSCI-TCC(c)","QSCI-TCC(T)","QSCI-TCC(T)(c)"], "range": ["#0000ff","#ff0000","#ff00ff","#008000","#800080","#40e0d0"]},
"legend": {"orient": "none", "legendX": 16, "legendY": 15, "columns": 2, "columnPadding": 4, "rowPadding": 5, "symbolSize": 324, "symbolStrokeWidth": 3, "symbolType": "M-2,0H2M-0.6,0A0.6,0.6 0 1,0 0.6,0A0.6,0.6 0 1,0 -0.6,0Z", "labelOffset": 22, "labelFontSize": 20, "labelLimit": 0, "title": null, "padding": 0}},
"strokeDash": {"field": "method", "type": "nominal", "scale": {"domain": ["CCSD","CCSD(T)","QSCI-TCC","QSCI-TCC(c)","QSCI-TCC(T)","QSCI-TCC(T)(c)"], "range": [[14,5],[12,5],[12,4,3,4],[12,5],[12,4,3,4],[3,4]]},
"legend": {"orient": "none", "legendX": 16, "legendY": 15, "columns": 2, "columnPadding": 4, "rowPadding": 5, "symbolSize": 324, "symbolStrokeWidth": 3, "symbolType": "M-2,0H2M-0.6,0A0.6,0.6 0 1,0 0.6,0A0.6,0.6 0 1,0 -0.6,0Z", "labelOffset": 22, "labelFontSize": 20, "labelLimit": 0, "title": null, "padding": 0}}
}},
{"mark": {"type": "point", "filled": true, "size": 130, "opacity": 1, "strokeWidth": 1.2, "clip": true},
"encoding": {
"fill": {"field": "method", "type": "nominal", "scale": {"domain": ["CCSD","CCSD(T)","QSCI-TCC","QSCI-TCC(c)","QSCI-TCC(T)","QSCI-TCC(T)(c)"], "range": ["#0000ff","#ff0000","#ff00ff","#008000","#800080","#40e0d0"]},
"legend": {"orient": "none", "legendX": 16, "legendY": 15, "columns": 2, "columnPadding": 4, "rowPadding": 5, "symbolSize": 324, "symbolStrokeWidth": 3, "symbolType": "M-2,0H2M-0.6,0A0.6,0.6 0 1,0 0.6,0A0.6,0.6 0 1,0 -0.6,0Z", "labelOffset": 22, "labelFontSize": 20, "labelLimit": 0, "title": null, "padding": 0}},
"stroke": {"field": "method", "type": "nominal", "scale": {"domain": ["QSCI-TCC(T)(c)","QSCI-TCC(T)","QSCI-TCC(c)","QSCI-TCC","CCSD(T)","CCSD"], "range": ["#40e0d0","#800080","#008000","#ff00ff","#ff0000","#0000ff"]}, "legend": null},
"shape": {"field": "method", "type": "nominal", "scale": {"domain": ["QSCI-TCC(T)(c)","QSCI-TCC(T)","QSCI-TCC(c)","QSCI-TCC","CCSD(T)","CCSD"], "range": ["M0,-1.1L0.25,-0.34L1.05,-0.34L0.4,0.13L0.65,0.89L0,0.42L-0.65,0.89L-0.4,0.13L-1.05,-0.34L-0.25,-0.34Z","M0,-1L0.95,-0.31L0.59,0.81L-0.59,0.81L-0.95,-0.31Z","M0,-1.1L0.25,-0.34L1.05,-0.34L0.4,0.13L0.65,0.89L0,0.42L-0.65,0.89L-0.4,0.13L-1.05,-0.34L-0.25,-0.34Z","M-1,0A1,1 0 1,0 1,0A1,1 0 1,0 -1,0Z","M0,-1L1,0L0,1L-1,0Z","M0,-1.2L0.6,0L0,1.2L-0.6,0Z"]}, "legend": null}
}}
]
}
],
"spacing": 4,
"resolve": {"scale": {"color": "independent", "fill": "independent", "stroke": "independent", "strokeDash": "independent", "shape": "independent"}, "legend": {"color": "independent", "fill": "independent", "stroke": "independent", "strokeDash": "independent", "shape": "independent"}}
},
{
"width": 1746, "height": 186, "view": {"stroke": null},
"data": {"values": [
{"line": 0, "text": "FIG. 3: (a) Energy curve and (b) energy difference compared to SHCI for N₂ dissociation at the cc-pVTZ basis set"},
{"line": 1, "text": "level. The active space is (6e, 6o). The GateFabric ansatz with three layers is used for VQE."}
]},
"mark": {"type": "text", "align": "center", "baseline": "middle", "font": "Liberation Serif", "fontSize": 38, "color": "black"},
"encoding": {"y": {"field": "line", "type": "quantitative", "scale": {"domain": [-1.777, 2.944], "reverse": true, "nice": false, "zero": false}, "axis": null}, "text": {"field": "text"}}
},
{
"hconcat": [
{
"width": 844, "height": 1040, "view": {"stroke": null},
"data": {"values": [
{"kind": "head", "line": 0.05, "x": 11.74, "text": "B.\u00a0\u00a0\u00a0 Dependence on measurement shots"},
{"kind": "body", "line": 2.77, "x": 1, "text": "We investigated how the number of measurement shots"},
{"kind": "body", "line": 3.77, "x": 0, "text": "influences the statistical uncertainty of QSCI-TCC(c)."},
{"kind": "body", "line": 4.77, "x": 0, "text": "The QSCI sampling was varied as 10³, 10⁴, 10⁵, and"},
{"kind": "body", "line": 5.77, "x": 0, "text": "10⁶ shots, and these measurements were repeated 10³"},
{"kind": "body", "line": 6.77, "x": 0, "text": "times independently. All simulations employed a two-"},
{"kind": "body", "line": 7.77, "x": 0, "text": "layer GateFabric ansatz and (6e, 6o) active space, cor-"},
{"kind": "body", "line": 8.77, "x": 0, "text": "responding to twelve Jordan–Wigner qubits. Two N₂"},
{"kind": "body", "line": 9.77, "x": 0, "text": "geometries were considered: r = 1.1 Å, close to the equi-"},
{"kind": "body", "line": 10.77, "x": 0, "text": "librium bond length, and r = 2.2 Å, far into the strongly"},
{"kind": "body", "line": 11.77, "x": 0, "text": "correlated regime. Identical configuration sets obtained"},
{"kind": "body", "line": 12.77, "x": 0, "text": "from repeated measurements were first grouped. Then,"},
{"kind": "body", "line": 13.77, "x": 0, "text": "a single TCC calculation was performed for each unique"},
{"kind": "body", "line": 14.77, "x": 0, "text": "set while we separately recorded how many times that set"},
{"kind": "body", "line": 15.77, "x": 0, "text": "appeared. To restore the spin symmetry, the data were"},
{"kind": "body", "line": 16.77, "x": 0, "text": "analyzed with and without taking the union of the sepa-"},
{"kind": "body", "line": 17.77, "x": 0, "text": "rated α- and β-spin determinants, as shown in Eq. (11)."},
{"kind": "body", "line": 19.24, "x": 1, "text": "Fig. 4 summarizes the results. In every panel, the"},
{"kind": "body", "line": 20.24, "x": 0, "text": "QSCI-TCC(c) energy converges rapidly as the shot count"},
{"kind": "body", "line": 21.24, "x": 0, "text": "increases. We observed that the 1.0 × 10⁵ shots are suf-"},
{"kind": "body", "line": 22.24, "x": 0, "text": "ficient in each condition, but the convergence behaviors"},
{"kind": "body", "line": 23.24, "x": 0, "text": "differ between the two bond lengths. The details are de-"},
{"kind": "body", "line": 24.24, "x": 0, "text": "scribed below."}
]},
"encoding": {
"y": {"field": "line", "type": "quantitative", "scale": {"domain": [-1.117, 25.279], "reverse": true, "nice": false, "zero": false}, "axis": null},
"x": {"field": "x", "type": "quantitative", "scale": {"domain": [0, 24], "nice": false, "zero": false}, "axis": null},
"text": {"field": "text"}
},
"layer": [
{"transform": [{"filter": "datum.kind === 'body'"}], "mark": {"type": "text", "align": "left", "baseline": "middle", "font": "Liberation Serif", "fontSize": 37, "color": "black"}},
{"transform": [{"filter": "datum.kind === 'head'"}], "mark": {"type": "text", "align": "center", "baseline": "middle", "font": "Liberation Serif", "fontSize": 38, "fontWeight": "bold", "color": "black"}}
]
},
{
"width": 842, "height": 1040, "view": {"stroke": null},
"data": {"values": [
{"line": 0, "x": 1, "text": "At \u00a0\u00a0the \u00a0\u00a0near-equilibrium \u00a0\u00a0geometry \u00a0\u00a0(r \u00a0\u00a0= \u00a0\u00a01.1 Å;"},
{"line": 1, "x": 0, "text": "Figs. 4 (a) and (b)), the repeated 10⁵ shot measure-"},
{"line": 2, "x": 0, "text": "ments sample 22 grouped subsets with the union option"},
{"line": 3, "x": 0, "text": "and 41 subsets without the union. The corresponding"},
{"line": 4, "x": 0, "text": "QSCI-TCC(c) energies fall into a single bin of width"},
{"line": 5, "x": 0, "text": "5.3 × 10⁻⁴ Eₕ. Because the molecule is close to equi-"},
{"line": 6, "x": 0, "text": "librium, a relatively small subset of dominant determi-"},
{"line": 7, "x": 0, "text": "nants, such as the HF state, is sufficient. Hence, once"},
{"line": 8, "x": 0, "text": "the limited set is included, the energy is considered to be"},
{"line": 9, "x": 0, "text": "determined with high precision."},
{"line": 10.13, "x": 1, "text": "In \u00a0\u00a0the \u00a0\u00a0strongly \u00a0\u00a0correlated \u00a0\u00a0regime \u00a0\u00a0(r \u00a0\u00a0= \u00a0\u00a02.2 Å;"},
{"line": 11.13, "x": 0, "text": "Figs. 4 (c) and (d)), 10⁵ shots yield only two distinct"},
{"line": 12.13, "x": 0, "text": "determinant sets with the union option and one without"},
{"line": 13.13, "x": 0, "text": "it. Consequently, each peak in the 10⁵-shot histograms of"},
{"line": 14.13, "x": 0, "text": "panels (c) and (d) corresponds to the energy of a single"},
{"line": 15.13, "x": 0, "text": "unique subset. The pronounced peak near −109.04 Eₕ,"},
{"line": 16.13, "x": 0, "text": "for example, arises from a subset containing 361(= 19²)"},
{"line": 17.13, "x": 0, "text": "configurations. Here, the Cartesian product enlargement"},
{"line": 18.13, "x": 0, "text": "allows for a more diverse set of basis states, making 10⁵"},
{"line": 19.13, "x": 0, "text": "shots sufficient."},
{"line": 20.23, "x": 1, "text": "In the cases of less than 10⁵ shots, the observed energy"},
{"line": 21.23, "x": 0, "text": "distribution is discrete rather than continuous, reflecting"},
{"line": 22.23, "x": 0, "text": "the binary occurrence of key determinants in the sampled"},
{"line": 23.23, "x": 0, "text": "set. The energies can be lower than the converged value"},
{"line": 24.23, "x": 0, "text": "because CC theory is not variational in nature."}
]},
"mark": {"type": "text", "align": "left", "baseline": "middle", "font": "Liberation Serif", "fontSize": 37, "color": "black"},
"encoding": {
"y": {"field": "line", "type": "quantitative", "scale": {"domain": [-1.117, 25.279], "reverse": true, "nice": false, "zero": false}, "axis": null},
"x": {"field": "x", "type": "quantitative", "scale": {"domain": [0, 24], "nice": false, "zero": false}, "axis": null},
"text": {"field": "text"}
}
}
],
"spacing": 60,
"bounds": "flush"
}
],
"spacing": 0,
"resolve": {"scale": {"color": "independent", "fill": "independent", "stroke": "independent", "strokeDash": "independent", "shape": "independent"}, "legend": {"color": "independent", "fill": "independent", "stroke": "independent", "strokeDash": "independent", "shape": "independent"}},
"config": {
"view": {"stroke": "black", "strokeWidth": 2},
"axis": {"grid": false, "domain": false, "ticks": true, "tickColor": "black", "tickSize": 6, "tickWidth": 2, "labelFont": "Liberation Serif", "labelFontSize": 32, "labelColor": "black", "labelPadding": 0, "titleFont": "Liberation Serif", "titleFontWeight": "normal", "titleColor": "black", "labelFlush": false, "labelOverlap": false},
"axisX": {"titlePadding": 5, "titleFontSize": 38},
"axisY": {"titlePadding": 2, "titleFontSize": 40},
"legend": {"labelFont": "Liberation Serif", "labelColor": "black"},
"title": {"font": "Liberation Serif", "fontSize": 32, "fontWeight": "normal", "color": "black"}
}
}
